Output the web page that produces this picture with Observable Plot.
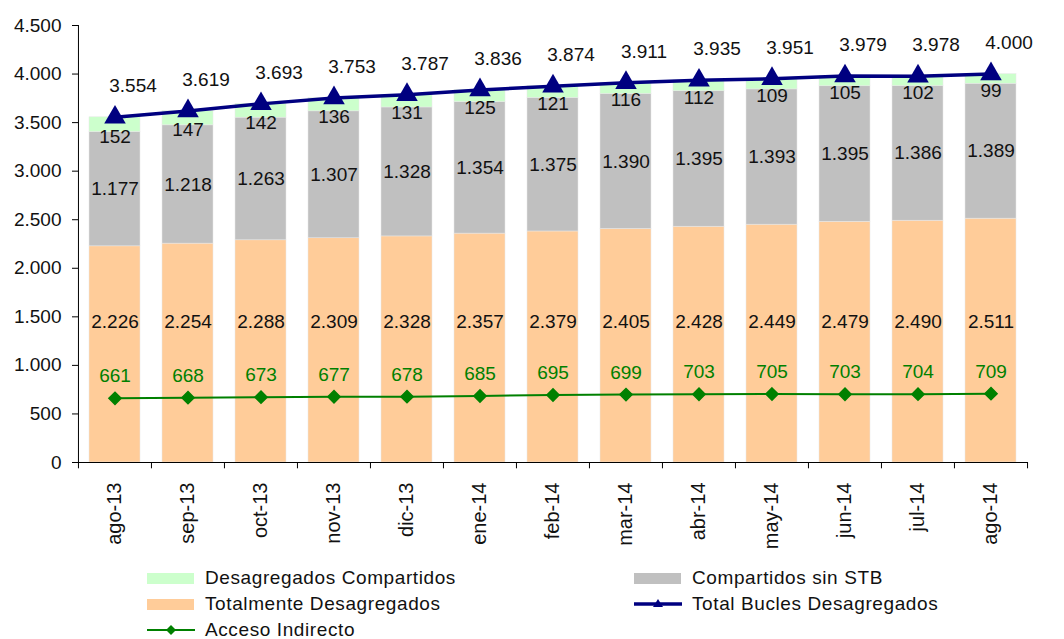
<!DOCTYPE html>
<html><head><meta charset="utf-8">
<script src="https://cdn.jsdelivr.net/npm/d3@7"></script>
<script src="https://cdn.jsdelivr.net/npm/@observablehq/plot@0.6"></script>
<style>
body{margin:0;background:#fff;font-family:"Liberation Sans",Arial,sans-serif;}
#wrap{position:relative;width:1064px;height:639px;overflow:hidden;}
.leg{position:absolute;display:flex;align-items:center;height:26px;font-size:19px;color:#111;letter-spacing:0.6px;white-space:nowrap;}
.sw{width:47px;height:11px;margin-right:11px;}
.leg svg{margin-right:10px;}
</style></head><body><div id="wrap"></div>
<script>
const months = ["ago-13","sep-13","oct-13","nov-13","dic-13","ene-14","feb-14","mar-14","abr-14","may-14","jun-14","jul-14","ago-14"];
const totalBucles = [3554,3619,3693,3753,3787,3836,3874,3911,3935,3951,3979,3978,4000];
const desagCompartidos = [152,147,142,136,131,125,121,116,112,109,105,102,99];
const compSinSTB = [1177,1218,1263,1307,1328,1354,1375,1390,1395,1393,1395,1386,1389];
const totalmenteDesag = [2226,2254,2288,2309,2328,2357,2379,2405,2428,2449,2479,2490,2511];
const accesoIndirecto = [661,668,673,677,678,685,695,699,703,705,703,704,709];
const yTicks = [0,500,1000,1500,2000,2500,3000,3500,4000,4500];

const seriesNames = ["Totalmente Desagregados","Compartidos sin STB","Desagregados Compartidos"];
const seriesColors = ["#FFCC99","#C0C0C0","#CCFFCC"];
const seriesValues = [totalmenteDesag, compSinSTB, desagCompartidos];

const stacked = [];
seriesNames.forEach((s, si) => months.forEach((m, i) => stacked.push({month: m, series: s, value: seriesValues[si][i]})));
const rows = months.map((m, i) => ({
  month: m, total: totalBucles[i], comp: desagCompartidos[i], sin: compSinSTB[i],
  tot: totalmenteDesag[i], ind: accesoIndirecto[i]
}));

const es = d3.formatLocale({decimal: ",", thousands: ".", grouping: [3], currency: ["", "€"]});
const fmt = es.format(",d");

const W = 1064, H = 562, mL = 78, mR = 36, mT = 25, mB = 100;
const step = (W - mL - mR) / months.length;
const font = "Liberation Sans, Arial, sans-serif";
const fs = 19;

const chart = Plot.plot({
  width: W, height: H,
  marginLeft: mL, marginRight: mR, marginTop: mT, marginBottom: mB,
  style: {fontFamily: font, fontSize: fs + "px", color: "#111", background: "#fff"},
  x: {domain: months, paddingInner: 0.3, paddingOuter: 0.15},
  y: {domain: [0, 4500]},
  color: {domain: seriesNames, range: seriesColors},
  marks: [
    Plot.barY(stacked, {x: "month", y: "value", fill: "series", order: seriesNames, stroke: "#e8e8e8", strokeWidth: 0.5}),
    // axes
    Plot.ruleY([0], {stroke: "#000", strokeWidth: 1}),
    Plot.ruleX([months[0]], {x: d => d, y1: 0, y2: 4500, dx: -step / 2, stroke: "#000"}),
    Plot.ruleX(months, {x: d => d, y1: 0, y2: -65, dx: -step / 2, stroke: "#000"}),
    Plot.ruleX([months[months.length - 1]], {x: d => d, y1: 0, y2: -65, dx: step / 2, stroke: "#000"}),
    Plot.axisY({ticks: yTicks, tickFormat: fmt, tickSize: 6, tickPadding: 11, fontSize: fs, stroke: "#000"}),
    Plot.axisX({tickRotate: -90, tickSize: 0, tickPadding: 14, dy: 6, fontSize: 20, label: null}),
    // lines
    Plot.line(rows, {x: "month", y: "ind", stroke: "#008000", strokeWidth: 2}),
    Plot.dot(rows, {x: "month", y: "ind", symbol: "diamond2", r: 5.5, fill: "#008000", stroke: "#008000"}),
    Plot.line(rows, {x: "month", y: "total", stroke: "#000080", strokeWidth: 3.5}),
    Plot.dot(rows, {x: "month", y: "total", symbol: "triangle", r: 8, fill: "#000080"}),
    // labels
    Plot.text(rows, {x: "month", y: () => 1450, text: d => fmt(d.tot), fontSize: fs, fill: "#111"}),
    Plot.text(rows, {x: "month", y: d => d.tot + d.sin / 2, text: d => fmt(d.sin), fontSize: fs, fill: "#111"}),
    Plot.text(rows, {x: "month", y: d => d.tot + d.sin + d.comp / 2, dy: 12, text: d => fmt(d.comp), fontSize: fs, fill: "#111"}),
    Plot.text(rows, {x: "month", y: "total", dx: 18, dy: -31, text: d => fmt(d.total), fontSize: fs, fill: "#111"}),
    Plot.text(rows, {x: "month", y: "ind", dy: -22, text: d => fmt(d.ind), fontSize: fs, fill: "#008000"})
  ]
});
const wrap = document.getElementById("wrap");
chart.style.position = "absolute";
chart.style.left = "0px";
chart.style.top = "0px";
wrap.appendChild(chart);

// legend
const legendItems = [
  {label: seriesNames[2], kind: "rect", color: seriesColors[2], x: 147, y: 578},
  {label: seriesNames[1], kind: "rect", color: seriesColors[1], x: 634, y: 578},
  {label: seriesNames[0], kind: "rect", color: seriesColors[0], x: 147, y: 604},
  {label: "Total Bucles Desagregados", kind: "tri", color: "#000080", x: 634, y: 604},
  {label: "Acceso Indirecto", kind: "dia", color: "#008000", x: 147, y: 630}
];
legendItems.forEach(it => {
  const d = document.createElement("div");
  d.className = "leg";
  d.style.left = it.x + "px";
  d.style.top = (it.y - 13) + "px";
  let sw;
  if (it.kind === "rect") {
    sw = `<div class="sw" style="background:${it.color}"></div>`;
  } else if (it.kind === "tri") {
    sw = `<svg width="48" height="14"><line x1="0" y1="7" x2="48" y2="7" stroke="${it.color}" stroke-width="3.5"/><path d="M24,2 L29,10 L19,10 Z" fill="${it.color}"/></svg>`;
  } else {
    sw = `<svg width="48" height="14"><line x1="0" y1="7" x2="48" y2="7" stroke="${it.color}" stroke-width="2"/><path d="M24,2 L29,7 L24,12 L19,7 Z" fill="${it.color}"/></svg>`;
  }
  d.innerHTML = sw + `<span>${it.label}</span>`;
  wrap.appendChild(d);
});
</script>
</body></html>
